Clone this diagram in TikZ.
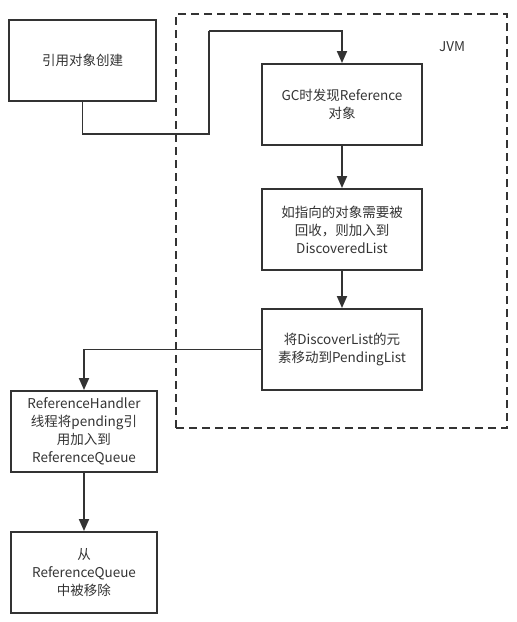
\documentclass[tikz,border=0pt]{standalone}
\usepackage{fontspec}
\setmainfont{Noto Sans CJK SC}
\usetikzlibrary{arrows.meta}
\definecolor{ln}{HTML}{333333}
\tikzset{
  box/.style={draw=ln, line width=1.9pt, minimum width=147pt, minimum height=81pt, align=center, text=ln, inner sep=2pt,
    font=\fontsize{13.5pt}{18pt}\selectfont},
  conn/.style={draw=ln, line width=1.9pt, -{Triangle[length=12pt,width=10pt]}},
  plain/.style={draw=ln, line width=1.9pt}
}
\begin{document}
\begin{tikzpicture}[x=1pt,y=-1pt]
\useasboundingbox (0,0) rectangle (517,622);
\node[draw=ln, dashed, dash pattern=on 8pt off 5pt, line width=1.9pt, minimum width=331pt, minimum height=414pt, inner sep=0pt] (jvm) at (341.5,221) {};
\node[text=ln, font=\fontsize{13.5pt}{18pt}\selectfont] (jl) at (452,47) {JVM};
\node[box] (b1) at (82.5,60.5) {引用对象创建};
\node[box, minimum width=160pt] (gc) at (342,104.5) {GC时发现Reference\\对象};
\node[box, minimum width=160pt] (b2) at (342,229.5) {如指向的对象需要被\\回收，则加入到\\DiscoveredList};
\node[box, minimum width=160pt] (b3) at (342,349.5) {将DiscoverList的元\\素移动到PendingList};
\node[box, minimum width=146pt] (b4) at (84,431.5) {ReferenceHandler\\线程将pending引\\用加入到\\ReferenceQueue};
\node[box, minimum width=146pt] (b5) at (84,572.5) {从\\ReferenceQueue\\中被移除};
\coordinate (k1) at (209,134);
\coordinate (k2) at (209,31);
\draw[plain] (b1.south) |- (k1) -- (k2);
\draw[conn] (k2) -| (gc.north);
\draw[conn] (gc) -- (b2);
\draw[conn] (b2) -- (b3);
\draw[conn] (b3.west) -| (b4.north);
\draw[conn] (b4) -- (b5);
\end{tikzpicture}
\end{document}
